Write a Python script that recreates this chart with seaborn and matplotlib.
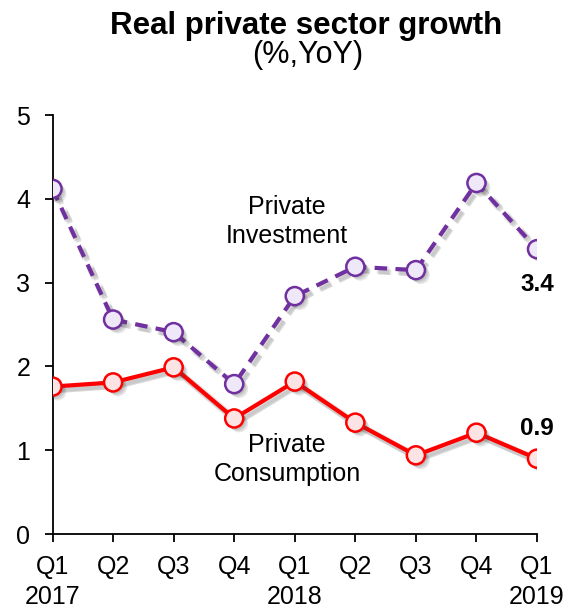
import matplotlib
matplotlib.use("Agg")
import matplotlib.pyplot as plt
import matplotlib.patheffects as pe
import seaborn as sns
import pandas as pd

quarters = ["Q1\n2017", "Q2", "Q3", "Q4", "Q1\n2018", "Q2", "Q3", "Q4", "Q1\n2019"]
investment = [4.12, 2.56, 2.41, 1.79, 2.84, 3.19, 3.15, 4.19, 3.4]
consumption = [1.76, 1.81, 1.99, 1.38, 1.82, 1.33, 0.94, 1.21, 0.9]
yticks = [0, 1, 2, 3, 4, 5]

sns.set_theme(style="ticks")
plt.rcParams["font.family"] = ["Liberation Sans", "DejaVu Sans"]
plt.rcParams["text.color"] = "black"
plt.rcParams["xtick.color"] = "black"
plt.rcParams["ytick.color"] = "black"

df = pd.DataFrame({"idx": range(len(quarters)),
                   "investment": investment,
                   "consumption": consumption})

fig = plt.figure(figsize=(5.66, 6.09), dpi=100)
ax = fig.add_axes([0.0928, 0.123, 0.856, 0.688])

# soft drop shadow: a few offset layers of faint grey
line_shadow = [pe.SimpleLineShadow(offset=(o, -o), shadow_color="#444444",
                                   alpha=0.10, linewidth=w)
               for o, w in ((1.5, 5.5), (2.5, 4.5), (3.0, 3.5))] + [pe.Normal()]
dot_shadow = [pe.SimplePatchShadow(offset=(o, -o), shadow_rgbFace="#444444", alpha=0.13)
              for o in (1.5, 2.5, 3.5)] + [pe.Normal()]

series = [
    ("investment", "#7030A0", "#EEE8F8", (0, (3, 2))),
    ("consumption", "#FF0000", "#FDE4E4", "-"),
]
for col, edge, face, ls in series:
    sns.lineplot(data=df, x="idx", y=col, ax=ax, color=edge, linewidth=3,
                 linestyle=ls, zorder=2)
    ax.lines[-1].set_path_effects(line_shadow)
    sns.scatterplot(data=df, x="idx", y=col, ax=ax, s=170, color=face,
                    edgecolor=edge, linewidth=1.8, zorder=3,
                    path_effects=dot_shadow)

ax.set_xlim(0, len(quarters) - 1)
ax.set_ylim(0, 5)
ax.set_xticks(range(len(quarters)))
ax.set_xticklabels(quarters, linespacing=1.32)
ax.set_yticks(yticks)
ax.set_xlabel("")
ax.set_ylabel("")
ax.tick_params(axis="both", labelsize=18, length=6, width=1.3, color="black",
               labelcolor="black")
ax.tick_params(axis="x", pad=9)
ax.tick_params(axis="y", pad=10)
for side in ("top", "right"):
    ax.spines[side].set_visible(False)
for side in ("left", "bottom"):
    ax.spines[side].set_color("black")
    ax.spines[side].set_linewidth(1.3)
ax.patch.set_alpha(0)
for sp in ax.spines.values():
    sp.set_zorder(1)

ax.text(3.87, 3.73, "Private\nInvestment", ha="center", va="center",
        fontsize=18, linespacing=1.27)
ax.text(3.87, 0.89, "Private\nConsumption", ha="center", va="center",
        fontsize=18, linespacing=1.27)
ax.text(8.0, 2.98, f"{investment[-1]:.1f}", ha="center", va="center",
        fontsize=17.5, fontweight="bold")
ax.text(8.0, 1.26, f"{consumption[-1]:.1f}", ha="center", va="center",
        fontsize=17.5, fontweight="bold")

fig.text(0.541, 0.944, "Real private sector growth", ha="center", va="baseline",
         fontsize=22.5, fontweight="bold")
fig.text(0.544, 0.897, "(%,YoY)", ha="center", va="baseline", fontsize=22)

fig.savefig("out.png", dpi=100)
